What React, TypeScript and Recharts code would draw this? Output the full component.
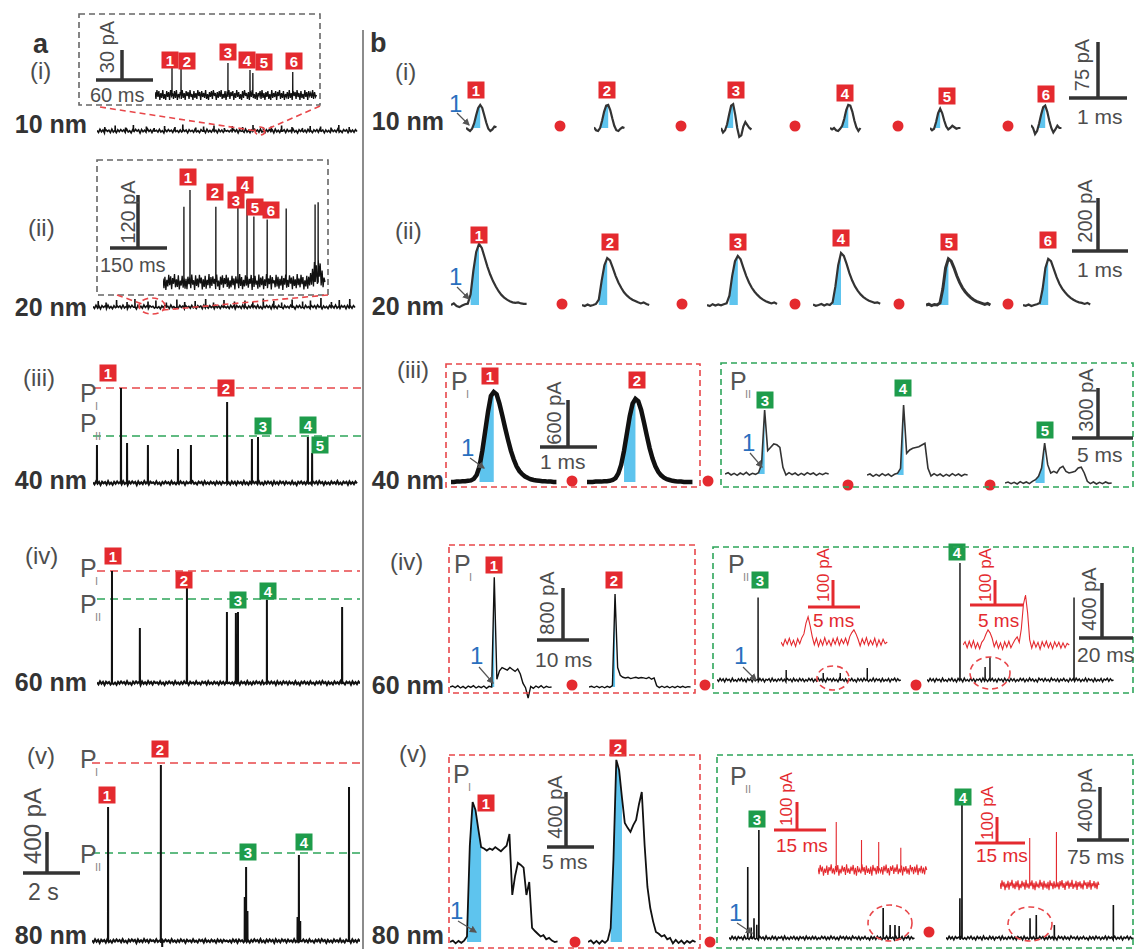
import React from 'react';
import { ComposedChart, Line, Area, XAxis, YAxis, ReferenceLine } from 'recharts';

const RED = '#e42a2f';
const GREEN = '#1e9c4b';
const BLUE = '#5ec4ee';
const BLUE_TXT = '#2a6fbe';
const GREY = '#4d4d4d';
const FONT = '"Liberation Sans", Arial, sans-serif';

// ---------- a: long recordings (t in s, I in pA) ----------
const aNoise = [6, -14, 17, -8, 11, -19, 13, -3, 9, -16, 19, -11, 5, -17, 12, -7, 15, -4, 10, -13, 18, -10, 3, -18, 14, -6, 16, -2, 12, -20, 16, -8, 8, -12, 20, -5, 11, -15, 13, -1, 7, -11, 17, -9, 4, -19, 11, -6, 15, -3, 8, -14, 19, -7, 5, -13, 10, -10, 16, -4, 9, -18, 12, -5, 7, -12, 17, -8, 3, -15, 14, -2, 11, -16, 18, -9, 6, -11, 13, -5, 8, -17, 15, -7, 10, -14, 12, -3, 5, -9, 7, -15, 16, -6, 12, -18, 14, -4, 9, -13, 20, -10, 6, -16, 11, -8, 17, -3, 10, -12, 19, -11, 4, -17, 13, -7, 15, -5, 11, -19, 18, -9, 8, -14, 16, -2, 12, -15, 14, -6, 7, -11, 18, -10, 5, -20, 13, -4, 16, -8, 9, -13, 17, -7, 3, -16, 12, -5, 14, -12, 19, -3, 10, -18, 11, -9, 6, -14, 15, -6, 8, -10, 20, -11, 4, -15, 13, -2, 12, -17, 16, -8, 9, -12, 14, -4];
const a1Spikes = [[0.3, 40], [0.7, 55], [1.1, 35], [1.4, 60], [1.9, 45], [2.2, 30], [2.6, 50], [3.0, 40], [3.3, 65], [3.8, 35], [4.1, 45], [4.5, 55], [4.9, 30], [5.2, 50], [5.6, 40], [6.0, 60], [6.4, 35], [6.7, 45], [7.1, 55], [7.5, 40], [7.9, 30], [8.2, 50], [8.6, 45], [9.0, 35], [9.3, 60], [9.7, 40]];
const a2Spikes = [[0.2, 60], [0.5, 45], [0.9, 70], [1.3, 50], [1.6, 80], [2.1, 55], [2.4, 65], [2.8, 45], [3.2, 75], [3.5, 50], [3.9, 60], [4.3, 80], [4.6, 45], [5.0, 70], [5.4, 55], [5.8, 65], [6.1, 50], [6.5, 85], [6.9, 60], [7.2, 45], [7.6, 75], [8.0, 55], [8.3, 65], [8.7, 90], [9.1, 50], [9.4, 70], [9.8, 80]];
const a3Spikes = [[0.15, 380], [1.06, 950], [1.29, 400], [2.08, 380], [3.22, 340], [3.71, 380], [5.08, 810], [6.02, 440], [6.25, 460], [8.14, 460], [8.3, 300]];
const a4Spikes = [[0.57, 1120], [1.63, 550], [3.42, 960], [4.94, 710], [5.28, 700], [5.36, 710], [6.46, 830], [9.32, 760]];
const a5Spikes = [[0.6, 1340], [2.57, 1760], [2.62, -60], [5.7, 440], [5.75, 740], [5.8, 300], [7.67, 240], [7.72, 860], [7.77, 200], [9.59, 1540]];
const aLevels3 = [950, 470];
const aLevels4 = [1120, 840];
const aLevels5 = [1780, 880];

// zoomed insets of a(i), a(ii) (t in ms)
const inNoise1 = [3, -4, 5, -2, 4, -5, 2, -3, 5, -4, 1, -5, 4, -2, 3, -5, 5, -1, 2, -4, 4, -3, 5, -5, 1, -2, 3, -4, 5, -3, 2, -5, 4, -1, 3, -4, 5, -2, 1, -5, 4, -3, 2, -4, 5, -1, 3, -5, 4, -2, 2, -3, 5, -4, 1, -5, 3, -2, 4, -4, 5, -1, 2, -5, 3, -3, 4, -2, 5, -4, 1, -3, 4, -5, 2, -2, 5, -4, 3, -1, 4, -5, 2, -3, 5, -2, 3, -4, 1, -5, 4, -3, 5, -1, 2, -4, 3, -5, 4, -2, 5, -3, 1, -4, 3, -5, 2, -1, 4, -4, 5, -3, 2, -5, 3, -2, 4, -4, 1, -5, 5, -3, 2, -2, 4, -5, 3, -1, 5, -4, 2, -3, 4, -5, 1, -2, 3, -4, 5, -3, 2, -5, 4, -1, 3, -4, 5, -2, 2, -5, 4, -3, 1, -4, 5, -2, 3, -5, 4, -1, 2, -3, 5, -4, 3, -2, 0];
const in1Spikes = [[17.9, 27], [27.4, 27], [76.8, 32], [100, 25], [103, 22], [145, 23]];
const inNoise2 = [8, -14, 12, -18, 5, -10, 16, -7, 13, -16, 9, -4, 18, -12, 6, -11, 15, -17, 3, -8, 14, -13, 10, -15, 7, -16, 12, -5, 11, -14, 17, -6, 4, -18, 15, -9, 8, -12, 16, -3, 10, -17, 6, -11, 14, -15, 5, -7, 18, -14, 11, -9, 13, -4, 7, -16, 17, -10, 3, -18, 12, -6, 15, -13, 9, -5, 16, -11, 10, -15, 4, -12, 14, -7, 8, -17, 13, -3, 6, -14, 18, -9, 11, -16, 5, -10, 15, -8, 12, -13, 7, -4, 16, -18, 9, -11, 14, -6, 3, -15, 17, -12, 10, -7, 13, -16, 6, -9, 18, -14, 8, -5, 15, -17, 11, -3, 4, -12, 16, -10, 12, -15, 7, -8, 14, -18, 9, -6, 17, -13, 5, -11, 15, -4, 10, -16, 13, -9, 6, -14, 18, -7, 8, -12, 16, -5, 11, -17, 4, -10, 14, -15, 12, -8, 20, -6, 30, -10, 45, 5, 38, -4, 50, 12, 42, -8, 26, -12, 10, 0];
const in2Spikes = [[55, 170], [71, 214], [139, 170], [197, 170], [221, 186], [239, 148], [274, 141], [324, 166], [400, 175], [408, 180]];

// ---------- b: single events ----------
const b1s1 = [0, -2, -4, -1, 6, 17, 27, 31, 27, 17, 7, -1, -4, -2, 2, 1];
const b1s2 = [1, -3, -4, 0, 10, 22, 30, 31, 24, 13, 3, -3, -4, -1, 1, 0];
const b1s3 = [0, -6, -3, 5, 18, 30, 32, 18, 0, -12, -10, 2, 8, 4, 0, -2];
const b1s4 = [0, -2, 0, -3, -4, -1, 3, 12, 24, 31, 30, 22, 10, 1, -4, 0];
const b1s5 = [0, -3, -1, 8, 20, 26, 20, 10, 2, -2, 0, 3, 1, -1, 0, 0];
const b1s6 = [4, 0, -8, -4, 6, 18, 28, 30, 22, 10, 0, -6, -2, 3, 0, 0];

const b2s1 = [0, 6, -4, -8, -2, 3, 5, 40, 130, 200, 230, 215, 180, 145, 115, 90, 70, 52, 38, 28, 20, 14, 10, 8, 10, 6, 4, 4];
const b2s2 = [0, -4, 2, -3, 0, 4, 20, 90, 150, 177, 168, 140, 110, 85, 65, 48, 36, 27, 20, 15, 10, 6, 10, 4, 0];
const b2s3 = [0, -4, 3, -2, 2, -1, 3, 6, 35, 110, 165, 185, 172, 140, 110, 85, 65, 50, 38, 28, 20, 14, 10, 6, 10, 4];
const b2s4 = [2, -3, 0, 4, -2, 3, 0, 10, 70, 150, 196, 185, 155, 120, 92, 70, 53, 40, 30, 22, 16, 12, 8, 10, 5];
const b2s5 = [0, 3, -2, 2, 0, 8, 60, 140, 174, 165, 140, 110, 85, 65, 50, 38, 28, 20, 14, 10, 6, 2, 6, 0];
const b2s6 = [0, -3, 2, -4, 0, 3, 8, 60, 140, 174, 165, 135, 105, 80, 62, 48, 36, 27, 20, 14, 10, 8, 4, 8, 2];

const b3s1 = [0, 0, 5, 5, 10, 10, 15, 20, 40, 90, 200, 400, 650, 900, 1100, 1150, 1120, 1000, 850, 690, 540, 400, 290, 200, 140, 100, 70, 50, 35, 25, 20, 15, 10, 10, 5, 5, 0, 0];
const b3s2 = [0, 0, 0, 5, 5, 5, 10, 10, 15, 25, 50, 110, 220, 400, 620, 840, 1000, 1060, 1030, 920, 760, 590, 430, 300, 200, 130, 85, 55, 35, 25, 15, 10, 5, 5, 0, 0, 0, 0];
const b3s3 = [0, 8, -6, 4, -8, 6, -4, 10, -6, 4, -2, 8, 60, 384, 140, 160, 180, 175, 160, 40, -6, 8, -4, 6, -8, 4, -6, 8, -2, 6, -8, 4, -4, 6, 0];
const b3s4 = [0, 6, -8, 4, -6, 8, -4, 6, -8, 4, 10, 40, 420, 130, 150, 160, 165, 170, 180, 190, 40, -6, 8, -4, 6, -8, 4, -6, 8, -4, 6, -6, 4, 0];
const b3s5 = [0, 6, -4, 4, -6, 8, -2, 6, -4, 10, 20, 40, 90, 240, 110, 60, 70, 60, 90, 100, 70, 60, 65, 70, 90, 95, 60, 10, -4, 6, -6, 4, -4, 6, -2, 0];

const b4s1 = [0, 15, -10, 20, -15, 10, -20, 15, -5, 20, -15, 10, -10, 15, -20, 10, 0, 1690, 120, 250, 300, 280, 260, 300, 270, 240, 280, 200, 60, -10, -170, 10, -20, 15, -10, 20, -15, 10, -5, 0];
const b4s2 = [0, 10, -8, 12, -10, 8, -12, 10, -6, 20, 1430, 300, 180, 150, 140, 150, 130, 140, 150, 135, 145, 140, 130, 150, 120, 140, 20, -10, 12, -8, 10, -12, 8, -10, 12, -6, 10, -8, 6, 0];
const bNoise = [4, -10, 12, -6, 8, -14, 10, -3, 6, -12, 14, -8, 2, -11, 9, -5, 13, -9, 5, -14, 11, -4, 7, -13, 14, -7, 3, -10, 12, -6, 9, -14, 6, -2, 10, -12, 14, -8, 4, -11, 8, -5, 12, -9, 6, -14, 10, -3, 7, -13, 13, -7, 5, -10, 11, -6, 9, -12, 3, -8, 12, -4, 10, -13, 6, -9, 14, -5, 8, -11, 4, -14, 13, -2, 9, -10, 11, -7, 5, -12, 14, -3, 7, -9, 10, -13, 6, -5, 12, -8, 3, -14, 11, -6, 9, -10, 13, -4, 8, -12, 5, -7, 14, -11, 10, -3, 6, -13, 12, -9, 4, -6, 11, -14, 7, -2, 13, -10, 9, -5, 0];
const b4s3Spikes = [[15.2, 600], [25.6, 73], [39.3, 51], [45.6, 51], [55.6, 87]];
const b4s4Spikes = [[12.2, 850], [21.5, 95], [23.3, 167], [54.4, 600]];
const b4r1 = [0, -14, 10, -8, 14, -12, 6, -16, 12, -6, 16, 30, 70, 93, 60, 20, -10, 14, -16, 8, -12, 16, -10, 6, -14, 12, -8, 16, -12, 10, -6, 14, -10, 20, 35, 45, 30, 10, -14, 12, -8, 16, -12, 6, -10, 14, -16, 8, -12, 10, -6, 0];
const b4r2 = [0, 12, -10, 14, -8, 16, -12, 8, -14, 10, 20, 40, 56, 45, 25, -6, 14, -12, 8, -16, 12, -8, 14, -10, 6, 20, 30, 10, 60, 150, 185, 120, 20, -12, 14, -8, 10, -16, 12, -6, 14, -10, 8, -14, 12, -6, 10, -12, 8, -10, 6, 0];

const b5s1 = [0, 10, -10, 8, -6, 10, 40, 700, 1018, 960, 820, 690, 680, 665, 680, 670, 690, 675, 660, 680, 700, 785, 342, 480, 575, 560, 540, 342, 436, 102, 80, 60, 40, 50, 20, 30, 10, 0, 5];
const b5s2 = [0, 12, -10, 8, -12, 10, -6, 14, 100, 600, 1324, 1250, 1050, 865, 830, 800, 850, 887, 1000, 1090, 705, 400, 247, 150, 73, 60, 40, 50, 20, 30, -10, 15, -8, 10, -12, 8, -6, 10, 0];
const b5s3Spikes = [[27, 536], [32, 80], [36, 150], [40, 100], [43, 815], [222, 226], [232, 98], [239, 98], [245, 90]];
const b5s4Spikes = [[20, 300], [23, 1004], [121, 150], [130, 174], [156, 98], [241, 249]];
const rNoise = [8, -15, 18, -6, 12, -20, 5, -10, 16, -18, 10, -4, 20, -12, 6, -16, 14, -8, 18, -20, 4, -12, 16, -6, 10, -18, 20, -10, 6, -14, 12, -4, 18, -16, 8, -20, 14, -8, 4, -12, 20, -6, 10, -18, 16, -10, 6, -14, 12, -20, 18, -4, 8, -16, 14, -12, 4, -8, 10, -17, 15, -5, 19, -11, 7, -19, 13, -3, 17, -14, 9, -7, 20, -15, 5, -9, 16, -19, 11, -6, 14, -13, 6, -17, 18, -2, 10, -15, 12, -9, 19, -18, 7, -5, 15, -12, 9, -16, 13, 0];
const b5r1Spikes = [[5.2, 171], [12.4, 107], [17.3, 100], [23.6, 79]];
const b5r2Spikes = [[9, 181], [17.1, 204]];

type Pt = { t: number; v: number; f: number | null };

const samples = (vals: number[], dt: number, fill?: number[]): Pt[] =>
  vals.map((v, i) => ({ t: i * dt, v, f: fill && i >= fill[0] && i <= fill[1] ? v : null }));

const spiky = (noise: number[], span: number, spikes: number[][]): Pt[] => {
  const dt = span / (noise.length - 1);
  const e = span / 2000;
  const pts = noise.map((v, i) => ({ t: i * dt, v }));
  spikes.forEach(([t, h]) => pts.push({ t: t - e, v: 0 }, { t, v: h }, { t: t + e, v: 0 }));
  return pts.sort((p, q) => p.t - q.t).map((p) => ({ ...p, f: null }));
};

type TraceProps = {
  data: Pt[]; left: number; top: number; width: number; height: number;
  base: number; tpp: number; vpp: number; color?: string; sw?: number; levels?: number[];
};

const Trace = ({ data, left, top, width, height, base, tpp, vpp, color = '#111', sw = 1.5, levels = [] }: TraceProps) => (
  <div style={{ position: 'absolute', left, top }}>
    <ComposedChart width={width} height={height} data={data} margin={{ top: 0, right: 0, bottom: 0, left: 0 }}>
      <XAxis dataKey="t" type="number" domain={[0, width * tpp]} hide allowDataOverflow />
      <YAxis type="number" domain={[(base - top - height) * vpp, (base - top) * vpp]} hide allowDataOverflow />
      {levels.map((lv, i) => (
        <ReferenceLine key={lv} y={lv} stroke={i === 0 ? '#e8474a' : '#2ea55a'} strokeDasharray="8 5" strokeWidth={1.6} />
      ))}
      <Area dataKey="f" baseValue={0} fill={BLUE} fillOpacity={1} stroke="none" isAnimationActive={false} dot={false} activeDot={false} />
      <Line dataKey="v" type="linear" stroke={color} strokeWidth={sw} dot={false} activeDot={false} isAnimationActive={false} />
    </ComposedChart>
  </div>
);

const T = ({ x, y, s = 20, c = GREY, b, a = 'start', children }: { x: number; y: number; s?: number; c?: string; b?: boolean; a?: 'start' | 'middle' | 'end'; children: React.ReactNode }) => (
  <text x={x} y={y} fontSize={s} fill={c} fontWeight={b ? 'bold' : 'normal'} textAnchor={a}>{children}</text>
);

const R = ({ x, y, s = 20, c = GREY, children }: { x: number; y: number; s?: number; c?: string; children: React.ReactNode }) => (
  <text x={x} y={y} fontSize={s} fill={c} textAnchor="middle" dominantBaseline="central" transform={`rotate(-90 ${x} ${y})`}>{children}</text>
);

const Badge = ({ n, x, y, c }: { n: number; x: number; y: number; c: string }) => (
  <g>
    <rect x={x - 8.5} y={y - 8.5} width={17} height={17} fill={c} />
    <text x={x} y={y + 5.5} textAnchor="middle" fontSize={15} fontWeight="bold" fill="#fff">{n}</text>
  </g>
);

const Bar = ({ x, y1, y2, h1, h2, c = '#333', w = 3.5 }: { x: number; y1: number; y2: number; h1: number; h2: number; c?: string; w?: number }) => (
  <g stroke={c} strokeWidth={w}>
    <line x1={x} y1={y1} x2={x} y2={y2} />
    <line x1={h1} y1={y2} x2={h2} y2={y2} />
  </g>
);

const Box = ({ x1, y1, x2, y2, c }: { x1: number; y1: number; x2: number; y2: number; c: string }) => (
  <rect x={x1} y={y1} width={x2 - x1} height={y2 - y1} fill="none" stroke={c} strokeWidth={1.6} strokeDasharray="6 4" />
);

const P = ({ x, y, sub }: { x: number; y: number; sub: string }) => (
  <g>
    <text x={x} y={y} fontSize={25} fill="#555">P</text>
    <text x={x + 15} y={y + 8} fontSize={11} fill="#888">{sub}</text>
  </g>
);

const Dot = ({ x, y }: { x: number; y: number }) => <circle cx={x} cy={y} r={5.5} fill={RED} />;

const One = ({ x, y, ax, ay, bx, by }: { x: number; y: number; ax: number; ay: number; bx: number; by: number }) => (
  <g>
    <text x={x} y={y} fontSize={24} fill={BLUE_TXT}>1</text>
    <line x1={ax} y1={ay} x2={bx} y2={by} stroke="#555" strokeWidth={1.2} markerEnd="url(#ah)" />
  </g>
);

const redDash = { stroke: '#e8474a', strokeWidth: 1.6, strokeDasharray: '6 4', fill: 'none' };

const Overlay = () => (
  <svg width={1136} height={949} style={{ position: 'absolute', left: 0, top: 0 }} fontFamily={FONT}>
    <defs>
      <marker id="ah" markerWidth="6" markerHeight="6" refX="5" refY="3" orient="auto">
        <path d="M0,0 L6,3 L0,6 z" fill="#555" />
      </marker>
    </defs>
    <line x1={363} y1={30} x2={363} y2={949} stroke="#8c8c8c" strokeWidth={2} />

    {/* panel a */}
    <T x={33} y={53} s={27} b c="#333">a</T>
    <T x={30} y={79} s={24}>(i)</T>
    <T x={87} y={133} s={25} b a="end" c="#333">10 nm</T>
    <T x={28} y={236} s={24}>(ii)</T>
    <T x={87} y={316} s={25} b a="end" c="#333">20 nm</T>
    <T x={23} y={386} s={24}>(iii)</T>
    <T x={87} y={489} s={25} b a="end" c="#333">40 nm</T>
    <T x={25} y={564} s={24}>(iv)</T>
    <T x={87} y={691} s={25} b a="end" c="#333">60 nm</T>
    <T x={27} y={764} s={24}>(v)</T>
    <T x={87} y={944} s={25} b a="end" c="#333">80 nm</T>

    <Box x1={79} y1={14} x2={320} y2={105} c="#666" />
    <Bar x={122} y1={50} y2={80} h1={96} h2={153} />
    <R x={107} y={47}>30 pA</R>
    <T x={90} y={102}>60 ms</T>
    {[[1, 170, 60], [2, 187, 61], [3, 228, 52], [4, 247, 60], [5, 264, 62], [6, 294, 61]].map(([n, x, y]) => <Badge key={`ai${n}`} n={n} x={x} y={y} c={RED} />)}
    <line x1={100} y1={107} x2={257} y2={131} {...redDash} />
    <line x1={320} y1={106} x2={263} y2={131} {...redDash} />
    <ellipse cx={260} cy={131} rx={5} ry={4} {...redDash} />

    <Box x1={97} y1={160} x2={328} y2={295} c="#666" />
    <Bar x={138} y1={195} y2={248} h1={110} h2={167} />
    <R x={128} y={212}>120 pA</R>
    <T x={100} y={272}>150 ms</T>
    {[[1, 188, 177], [2, 215, 192], [3, 236, 200], [4, 245, 185], [5, 255, 207], [6, 271, 210]].map(([n, x, y]) => <Badge key={`aii${n}`} n={n} x={x} y={y} c={RED} />)}
    <line x1={117} y1={295} x2={145} y2={305} {...redDash} />
    <line x1={328} y1={295} x2={163} y2={310} {...redDash} />
    <ellipse cx={152} cy={306} rx={13} ry={8} {...redDash} />

    <P x={80} y={402} sub="I" />
    <P x={80} y={432} sub="II" />
    <P x={80} y={577} sub="I" />
    <P x={80} y={613} sub="II" />
    <P x={80} y={768} sub="I" />
    <P x={80} y={863} sub="II" />
    {[[1, 108, 373, RED], [2, 226, 388, RED], [3, 263, 426, GREEN], [4, 308, 425, GREEN], [5, 320, 445, GREEN],
      [1, 113, 556, RED], [2, 184, 580, RED], [3, 238, 600, GREEN], [4, 268, 591, GREEN],
      [1, 107, 795, RED], [2, 160, 749, RED], [3, 248, 852, GREEN], [4, 304, 842, GREEN]].map(([n, x, y, c], i) => (
      <Badge key={`am${i}`} n={n as number} x={x as number} y={y as number} c={c as string} />
    ))}
    <Bar x={47} y1={832} y2={873} h1={23} h2={80} />
    <R x={32} y={826} s={24}>400 pA</R>
    <T x={28} y={900} s={23}>2 s</T>

    {/* panel b */}
    <T x={370} y={52} s={27} b c="#333">b</T>
    <T x={395} y={80} s={24}>(i)</T>
    <T x={444} y={130} s={25} b a="end" c="#333">10 nm</T>
    <T x={395} y={239} s={24}>(ii)</T>
    <T x={444} y={315} s={25} b a="end" c="#333">20 nm</T>
    <T x={397} y={378} s={24}>(iii)</T>
    <T x={444} y={489} s={25} b a="end" c="#333">40 nm</T>
    <T x={390} y={570} s={24}>(iv)</T>
    <T x={444} y={694} s={25} b a="end" c="#333">60 nm</T>
    <T x={399} y={762} s={24}>(v)</T>
    <T x={444} y={944} s={25} b a="end" c="#333">80 nm</T>

    <One x={449} y={112} ax={457} ay={113} bx={469} by={125} />
    <One x={449} y={285} ax={457} ay={287} bx={469} by={299} />
    <One x={461} y={456} ax={470} ay={458} bx={484} by={468} />
    <One x={742} y={451} ax={750} ay={453} bx={762} by={467} />
    <One x={470} y={664} ax={479} ay={667} bx={493} by={683} />
    <One x={734} y={664} ax={743} ay={667} bx={756} by={680} />
    <One x={450} y={919} ax={458} ay={921} bx={476} by={932} />
    <One x={729} y={921} ax={737} ay={923} bx={752} by={933} />

    {[[1, 476, 90], [2, 607, 90], [3, 736, 90], [4, 845, 93], [5, 947, 96], [6, 1046, 94],
      [1, 479, 235], [2, 610, 242], [3, 738, 242], [4, 841, 238], [5, 949, 242], [6, 1048, 240],
      [1, 490, 376], [2, 637, 380], [1, 494, 565], [2, 614, 580], [1, 486, 803], [2, 618, 748]].map(([n, x, y], i) => (
      <Badge key={`br${i}`} n={n} x={x} y={y} c={RED} />
    ))}
    {[[3, 765, 400], [4, 903, 388], [5, 1045, 430], [3, 760, 580], [4, 957, 552], [3, 757, 819], [4, 963, 797]].map(([n, x, y], i) => (
      <Badge key={`bg${i}`} n={n} x={x} y={y} c={GREEN} />
    ))}
    {[[560, 126], [681, 126], [795, 126], [898, 126], [1008, 126],
      [562, 304], [682, 304], [795, 304], [899, 304], [1008, 304],
      [572, 481], [708, 481], [848, 485], [990, 485],
      [572, 685], [705, 685], [916, 685],
      [575, 942], [710, 942], [929, 932]].map(([x, y], i) => <Dot key={`d${i}`} x={x} y={y} />)}

    <Box x1={446} y1={364} x2={700} y2={487} c="#e8474a" />
    <Box x1={721} y1={363} x2={1133} y2={487} c="#2ea55a" />
    <Box x1={449} y1={545} x2={695} y2={693} c="#e8474a" />
    <Box x1={713} y1={547} x2={1133} y2={693} c="#2ea55a" />
    <Box x1={449} y1={755} x2={700} y2={948} c="#e8474a" />
    <Box x1={717} y1={755} x2={1133} y2={948} c="#2ea55a" />

    <P x={451} y={390} sub="I" />
    <P x={730} y={390} sub="II" />
    <P x={454} y={573} sub="I" />
    <P x={728} y={573} sub="II" />
    <P x={453} y={783} sub="I" />
    <P x={730} y={785} sub="II" />

    <Bar x={1098} y1={42} y2={98} h1={1069} h2={1127} />
    <R x={1082} y={65}>75 pA</R>
    <T x={1077} y={124} s={21}>1 ms</T>
    <Bar x={1098} y1={198} y2={251} h1={1072} h2={1128} />
    <R x={1085} y={211}>200 pA</R>
    <T x={1077} y={277} s={21}>1 ms</T>
    <Bar x={568} y1={400} y2={447} h1={540} h2={597} />
    <R x={554} y={413}>600 pA</R>
    <T x={540} y={469} s={21}>1 ms</T>
    <Bar x={1098} y1={388} y2={438} h1={1072} h2={1133} />
    <R x={1086} y={400}>300 pA</R>
    <T x={1077} y={462} s={21}>5 ms</T>
    <Bar x={563} y1={588} y2={640} h1={537} h2={589} />
    <R x={547} y={603}>800 pA</R>
    <T x={535} y={667} s={21}>10 ms</T>
    <Bar x={1102} y1={583} y2={638} h1={1079} h2={1133} />
    <R x={1089} y={599}>400 pA</R>
    <T x={1077} y={662} s={21}>20 ms</T>
    <Bar x={566} y1={792} y2={847} h1={547} h2={594} />
    <R x={555} y={807}>400 pA</R>
    <T x={542} y={869} s={21}>5 ms</T>
    <Bar x={1100} y1={787} y2={840} h1={1077} h2={1129} />
    <R x={1085} y={800}>400 pA</R>
    <T x={1067} y={864} s={21}>75 ms</T>

    <Bar x={833} y1={580} y2={607} h1={808} h2={860} c={RED} w={3} />
    <R x={823} y={575} s={17} c={RED}>100 pA</R>
    <T x={813} y={627} s={19} c={RED}>5 ms</T>
    <Bar x={995} y1={580} y2={605} h1={970} h2={1023} c={RED} w={3} />
    <R x={985} y={575} s={17} c={RED}>100 pA</R>
    <T x={978} y={627} s={19} c={RED}>5 ms</T>
    <Bar x={797} y1={802} y2={830} h1={774} h2={826} c={RED} w={3} />
    <R x={786} y={799} s={17} c={RED}>100 pA</R>
    <T x={776} y={852} s={19} c={RED}>15 ms</T>
    <Bar x={997} y1={817} y2={843} h1={975} h2={1025} c={RED} w={3} />
    <R x={987} y={813} s={17} c={RED}>100 pA</R>
    <T x={976} y={862} s={19} c={RED}>15 ms</T>

    <ellipse cx={833} cy={678} rx={16} ry={12} {...redDash} />
    <ellipse cx={990} cy={673} rx={20} ry={16} {...redDash} />
    <ellipse cx={890} cy={923} rx={22} ry={18} {...redDash} />
    <ellipse cx={1030} cy={924} rx={22} ry={17} {...redDash} />
  </svg>
);

export default function App() {
  const b1 = { top: 95, height: 45, base: 128, tpp: 1 / 58, vpp: 1.34, width: 34, color: '#333', sw: 2.2 };
  const b2 = { top: 235, height: 80, base: 305, tpp: 1 / 56, vpp: 3.77, width: 80, color: '#333', sw: 2.2 };
  const b3r = { top: 385, height: 105, base: 482, tpp: 1 / 57, vpp: 12.77, width: 110, color: '#111', sw: 4.5 };
  const b3g = { top: 395, height: 95, tpp: 0.082, vpp: 6, width: 112, color: '#333', sw: 1.6 };
  const b4r = { top: 565, height: 140, base: 687, tpp: 0.192, vpp: 15.4, width: 110, sw: 1.4 };
  const b4g = { top: 555, height: 140, base: 680, tpp: 0.37, vpp: 7.27, width: 190, sw: 1.4 };
  const b5r = { top: 750, height: 199, base: 942, tpp: 0.106, vpp: 7.27, width: 115, sw: 1.8 };
  const b5g = { top: 790, height: 159, base: 938, tpp: 1.44, vpp: 7.55, width: 190, sw: 1.6 };
  return (
    <div style={{ position: 'absolute', left: 0, top: 0, width: 1136, height: 949, background: '#fff', overflow: 'hidden', fontFamily: FONT }}>
      {/* a: long traces */}
      <Trace data={spiky(aNoise, 10, a1Spikes)} left={97} top={100} width={262} height={40} base={131} tpp={10 / 260} vpp={10} sw={1.6} />
      <Trace data={spiky(aNoise, 10, a2Spikes)} left={93} top={280} width={264} height={40} base={307} tpp={10 / 262} vpp={10} sw={1.6} />
      <Trace data={spiky(aNoise, 10, a3Spikes)} left={93} top={370} width={270} height={125} base={483} tpp={10 / 264} vpp={10} sw={2} levels={aLevels3} />
      <Trace data={spiky(aNoise, 10, a4Spikes)} left={97} top={560} width={263} height={135} base={683} tpp={10 / 263} vpp={10} sw={2} levels={aLevels4} />
      <Trace data={spiky(aNoise, 10, a5Spikes)} left={92} top={750} width={268} height={199} base={941} tpp={10 / 268} vpp={10} sw={2} levels={aLevels5} />
      <Trace data={spiky(inNoise1, 170, in1Spikes)} left={155} top={55} width={163} height={50} base={95} tpp={1 / 0.95} vpp={1} sw={1.3} />
      <Trace data={spiky(inNoise2, 426, in2Spikes)} left={163} top={190} width={165} height={105} base={282} tpp={2.63} vpp={2.26} sw={1.3} />

      {/* b(i) */}
      <Trace data={samples(b1s1, 0.035, [3, 7])} left={466} {...b1} />
      <Trace data={samples(b1s2, 0.035, [3, 7])} left={594} {...b1} />
      <Trace data={samples(b1s3, 0.035, [2, 6])} left={721} {...b1} />
      <Trace data={samples(b1s4, 0.035, [5, 9])} left={830} {...b1} />
      <Trace data={samples(b1s5, 0.035, [2, 5])} left={930} {...b1} />
      <Trace data={samples(b1s6, 0.035, [3, 7])} left={1031} {...b1} />
      {/* b(ii) */}
      <Trace data={samples(b2s1, 0.05, [7, 10])} left={451} {...b2} />
      <Trace data={samples(b2s2, 0.05, [6, 9])} left={582} {...b2} />
      <Trace data={samples(b2s3, 0.05, [8, 11])} left={707} {...b2} />
      <Trace data={samples(b2s4, 0.05, [7, 10])} left={813} {...b2} />
      <Trace data={samples(b2s5, 0.05, [5, 8])} left={926} {...b2} sw={3} />
      <Trace data={samples(b2s6, 0.05, [6, 9])} left={1023} {...b2} />
      {/* b(iii) */}
      <Trace data={samples(b3s1, 0.05, [10, 15])} left={451} {...b3r} />
      <Trace data={samples(b3s2, 0.05, [13, 17])} left={587} {...b3r} />
      <Trace data={samples(b3s3, 0.25, [11, 13])} left={725} base={474} {...b3g} />
      <Trace data={samples(b3s4, 0.25, [10, 12])} left={867} base={475} {...b3g} />
      <Trace data={samples(b3s5, 0.25, [10, 13])} left={1005} base={483} {...b3g} />
      {/* b(iv) */}
      <Trace data={samples(b4s1, 0.5, [16, 17])} left={450} {...b4r} />
      <Trace data={samples(b4s2, 0.5, [9, 10])} left={589} {...b4r} />
      <Trace data={spiky(bNoise, 68, b4s3Spikes)} left={717} {...b4g} />
      <Trace data={spiky(bNoise, 69, b4s4Spikes)} left={927} {...b4g} />
      <Trace data={samples(b4r1, 0.2)} left={781} top={600} width={110} height={55} base={642} tpp={0.096} vpp={3.7} color={RED} sw={1.1} />
      <Trace data={samples(b4r2, 0.2)} left={963} top={585} width={110} height={70} base={645} tpp={0.096} vpp={3.7} color={RED} sw={1.1} />
      {/* b(v) */}
      <Trace data={samples(b5s1, 0.3, [6, 11])} left={450} {...b5r} />
      <Trace data={samples(b5s2, 0.3, [8, 12])} left={588} {...b5r} />
      <Trace data={spiky(bNoise, 267, b5s3Spikes)} left={729} {...b5g} />
      <Trace data={spiky(bNoise, 270, b5s4Spikes)} left={946} {...b5g} />
      <Trace data={spiky(rNoise, 31, b5r1Spikes)} left={818} top={810} width={112} height={80} base={870} tpp={0.285} vpp={3.57} color={RED} sw={1.1} />
      <Trace data={spiky(rNoise, 30, b5r2Spikes)} left={1000} top={820} width={102} height={75} base={885} tpp={0.303} vpp={3.85} color={RED} sw={1.1} />

      <Overlay />
    </div>
  );
}
